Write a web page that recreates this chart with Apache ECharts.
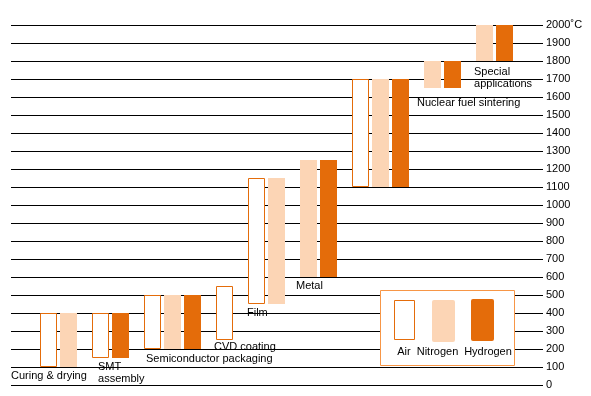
<!DOCTYPE html>
<html>
<head>
<meta charset="utf-8">
<script src="https://cdn.jsdelivr.net/npm/echarts@6/dist/echarts.min.js"></script>
<style>
  html, body { margin: 0; padding: 0; background: #fff; }
  #chart { width: 591px; height: 396px; }
</style>
</head>
<body>
<div id="chart"></div>
<script>
  // process groups, left to right
  const categories = ['Curing & drying', 'SMT\nassembly', 'Semiconductor packaging', 'CVD coating',
    'Film', 'Metal', '', 'Nuclear fuel sintering', 'Special\napplications'];
  // temperature ranges (°C) per atmosphere, null = not used
  const airRange = [[100, 400], [150, 400], [200, 500], [250, 550], [450, 1150], null, [1100, 1700], null, null];
  const nitrogenRange = [[100, 400], null, [200, 500], null, [450, 1150], [600, 1250], [1100, 1700], [1650, 1800], [1800, 2000]];
  const hydrogenRange = [null, [150, 400], [200, 500], null, null, [600, 1250], [1100, 1700], [1650, 1800], [1800, 2000]];
  const gasNames = ['Air', 'Nitrogen', 'Hydrogen'];
  const yTicks = {min: 0, max: 2000, interval: 100};

  // layout only: empty slots before first bar, label nudges (px)
  const slotShift = [0, 0, 0, 1, 0, 0, 0, 1, 1];
  const labelDx = [-29, 6, 2, -2, -1, -4, 0, -7, -2];
  const labelDy = [3, 3, 4, 1, 3, 3, 3, 9, 5];

  const ORANGE = '#E46C0A';
  const PEACH = '#FCD5B5';
  const FONT = '11px "Liberation Sans", Arial, sans-serif';

  let barData = [];
  let labelData = [];
  categories.forEach((name, g) => {
    let slot = slotShift[g];
    let low = Infinity;
    [airRange, nitrogenRange, hydrogenRange].forEach((ranges, gas) => {
      let r = ranges[g];
      if (!r) return;
      barData.push([g, slot, r[0], r[1], gas]);
      low = Math.min(low, r[0]);
      slot++;
    });
    if (name) labelData.push([g, low, slotShift[g]]);
  });

  let chart = echarts.init(document.getElementById('chart'));
  chart.setOption({
    animation: false,
    grid: {left: 11, right: 48, top: 25, bottom: 11},
    xAxis: {type: 'value', min: -0.558, max: 9.673, show: false},
    yAxis: {
      type: 'value',
      position: 'right',
      min: yTicks.min, max: yTicks.max, interval: yTicks.interval,
      axisLine: {show: false},
      axisTick: {show: false},
      splitLine: {lineStyle: {color: '#000', width: 1}},
      axisLabel: {
        margin: 3,
        color: '#000',
        fontFamily: '"Liberation Sans", Arial, sans-serif',
        fontSize: 11,
        formatter: v => v === yTicks.max ? v + '˚C' : String(v)
      }
    },
    series: [
      {
        type: 'custom',
        data: barData,
        encode: {x: 0, y: [2, 3]},
        renderItem: (params, api) => {
          let g = api.value(0), slot = api.value(1);
          let unit = api.size([1, 0])[0];
          let top = api.coord([g, api.value(3)]);
          let bottom = api.coord([g, api.value(2)]);
          let x = Math.round(top[0] + slot * unit * 0.385);
          let w = Math.round(unit * 0.327);
          let gas = api.value(4);
          if (gas === 0) {
            return {
              type: 'rect',
              shape: {x: x + 0.5, y: Math.round(top[1]) + 0.5, width: w - 1, height: Math.round(bottom[1] - top[1]) - 1},
              style: {fill: '#fff', stroke: ORANGE, lineWidth: 1}
            };
          }
          return {
            type: 'rect',
            shape: {x: x, y: Math.round(top[1]), width: w, height: Math.round(bottom[1] - top[1])},
            style: {fill: gas === 1 ? PEACH : ORANGE}
          };
        }
      },
      {
        type: 'custom',
        data: labelData,
        encode: {x: 0, y: 1},
        z: 3,
        renderItem: (params, api) => {
          let g = api.value(0);
          let unit = api.size([1, 0])[0];
          let p = api.coord([g, api.value(1)]);
          return {
            type: 'text',
            style: {
              text: categories[g],
              x: p[0] + api.value(2) * unit * 0.385 + labelDx[g],
              y: p[1] + labelDy[g],
              fill: '#000',
              font: FONT,
              lineHeight: 12,
              verticalAlign: 'top'
            }
          };
        }
      }
    ],
    graphic: [
      {type: 'rect', z: 10, shape: {x: 380.5, y: 290.5, width: 134, height: 75}, style: {fill: '#fff', stroke: '#F79646', lineWidth: 1}},
      {type: 'rect', z: 11, shape: {x: 394.5, y: 300.5, width: 20, height: 39}, style: {fill: '#fff', stroke: ORANGE, lineWidth: 1}},
      {type: 'rect', z: 11, shape: {x: 432, y: 300, width: 23, height: 42, r: 2}, style: {fill: PEACH}},
      {type: 'rect', z: 11, shape: {x: 471, y: 299, width: 23, height: 42, r: 2}, style: {fill: ORANGE}},
      {type: 'text', z: 11, style: {text: gasNames[0], x: 404, y: 352, align: 'center', verticalAlign: 'middle', font: FONT, fill: '#000'}},
      {type: 'text', z: 11, style: {text: gasNames[1], x: 437.5, y: 352, align: 'center', verticalAlign: 'middle', font: FONT, fill: '#000'}},
      {type: 'text', z: 11, style: {text: gasNames[2], x: 488, y: 352, align: 'center', verticalAlign: 'middle', font: FONT, fill: '#000'}}
    ]
  });
</script>
</body>
</html>
